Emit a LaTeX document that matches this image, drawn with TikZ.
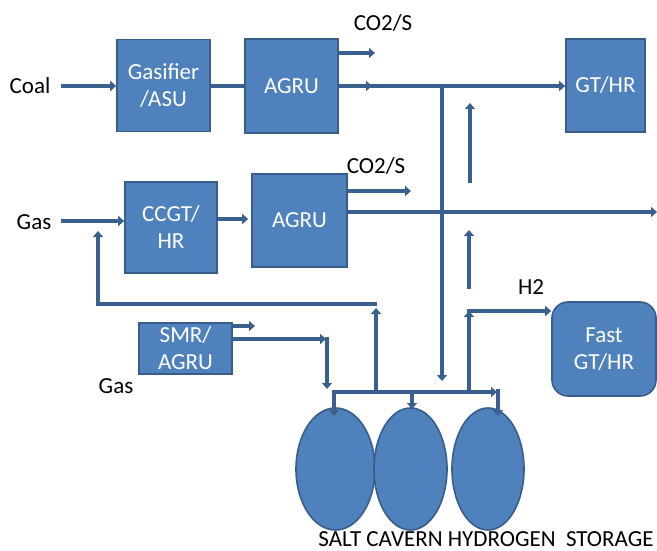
\documentclass[tikz,border=0pt]{standalone}
\usepackage{fontspec}
\setmainfont{Carlito}
\usetikzlibrary{arrows.meta,shapes.geometric}
\definecolor{boxfill}{RGB}{79,129,189}
\definecolor{boxline}{RGB}{56,93,138}
\definecolor{linecol}{RGB}{58,96,143}
\begin{document}
\begin{tikzpicture}[x=1pt,y=-1pt,
  font=\fontsize{23}{27}\selectfont,
  box/.style={draw=boxline,fill=boxfill,line width=1.6pt,text=white,align=center,inner sep=0pt},
  cav/.style={ellipse,draw=boxline,fill=boxfill,line width=1.6pt,inner sep=0pt},
  lbl/.style={inner sep=0pt,text=black},
  conn/.style={draw=linecol,line width=3.4pt},
  arr/.style={conn,-{Triangle[length=6pt,width=10pt]}}]
\useasboundingbox (0,0) rectangle (657,551);

% boxes
\node[box,minimum width=93pt,minimum height=92pt] (gasif) at (163.5,85.5) {Gasifier\\/ASU};
\node[box,minimum width=93pt,minimum height=94pt] (agru1) at (291.5,86) {AGRU};
\node[box,minimum width=79pt,minimum height=93pt] (gthr) at (605.5,85.5) {GT/HR};
\node[box,minimum width=92pt,minimum height=91pt] (ccgt) at (171,227.5) {CCGT/\\HR};
\node[box,minimum width=95pt,minimum height=93pt] (agru2) at (299.5,220.5) {AGRU};
\node[box,minimum width=93pt,minimum height=51pt] (smr) at (185.5,348.5) {SMR/\\AGRU};
\node[box,rounded corners=16pt,minimum width=104pt,minimum height=94pt] (fast) at (604,349) {Fast\\GT/HR};
\node[cav,minimum width=79pt,minimum height=122pt] (cav1) at (335.5,469) {};
\node[cav,minimum width=73pt,minimum height=122pt] (cav2) at (410.5,469) {};
\node[cav,minimum width=72pt,minimum height=122pt] (cav3) at (488,469) {};

% labels
\node[lbl] (coal) at (30,86) {Coal};
\node[lbl] (gasa) at (34,222) {Gas};
\node[lbl] (gasb) at (116,386) {Gas};
\node[lbl] (co2a) at (383,23) {CO2/S};
\node[lbl] (co2b) at (376,166) {CO2/S};
\node[lbl] (htwo) at (531,287) {H2};
\node[lbl] (title) at (486,539) {SALT CAVERN HYDROGEN\ \ STORAGE};

% coordinates
\coordinate (co2aend) at (375,53);
\coordinate (midtip) at (372,86);
\coordinate (j1) at (442,86);
\coordinate (busdown) at (442,381);
\coordinate (upa1) at (470,183);
\coordinate (upa2) at (470,103);
\coordinate (co2bend) at (411,191);
\coordinate (rightend) at (657,212);
\coordinate (upb1) at (469,289);
\coordinate (upb2) at (469,230);
\coordinate (fb0) at (376,392);
\coordinate (fb1) at (376,308);
\coordinate (fb2) at (377,304);
\coordinate (fb3) at (98,304);
\coordinate (fb4) at (98,231);
\coordinate (smra) at (255,326);
\coordinate (smrb) at (326,339);
\coordinate (smrc) at (327,337);
\coordinate (smrd) at (327,389);
\coordinate (bus0) at (332,392);
\coordinate (bus1) at (497,392);
\coordinate (d1a) at (334,392);
\coordinate (d1b) at (334,416);
\coordinate (d2a) at (412,392);
\coordinate (d2b) at (412,409);
\coordinate (d3a) at (498,389);
\coordinate (d3b) at (498,416);
\coordinate (h2a) at (469,392);
\coordinate (h2b) at (469,311);

% top row
\draw[arr] ([xshift=10pt]coal.east |- 0,86) -- (gasif.west |- 0,86);
\draw[conn] (gasif.east |- 0,86) -- (agru1.west |- 0,86);
\draw[arr] (agru1.east |- co2aend) -- (co2aend);
\draw[arr] (agru1.east |- midtip) -- (midtip);
\draw[arr] (agru1.east |- j1) -- (gthr.west |- j1);
\draw[arr] (j1) -- (busdown);
\draw[arr] (upa1) -- (upa2);

% middle row
\draw[arr] ([xshift=10pt]gasa.east |- 0,221) -- (ccgt.west |- 0,221);
\draw[arr] (ccgt.east |- 0,219) -- ([xshift=-3pt]agru2.west |- 0,219);
\draw[arr] (agru2.east |- co2bend) -- (co2bend);
\draw[arr] (agru2.east |- rightend) -- (rightend);
\draw[arr] (upb1) -- (upb2);

% feedback
\draw[arr] (fb0) -- (fb1);
\draw[arr] (fb2) -- (fb3) -- (fb4);

% SMR
\draw[arr] (smr.east |- smra) -- (smra);
\draw[arr] (smr.east |- smrb) -- (smrb);
\draw[arr] (smrc) -- (smrd);

% storage bus
\draw[arr] (bus0) -- (bus1);
\draw[arr] (d1a) -- (d1b);
\draw[arr] (d2a) -- (d2b);
\draw[arr] (d3a) -- (d3b);
\draw[arr] (h2a) -- (h2b);
\draw[arr] ([xshift=-1.7pt]h2b) -- (fast.west |- h2b);
\end{tikzpicture}
\end{document}
